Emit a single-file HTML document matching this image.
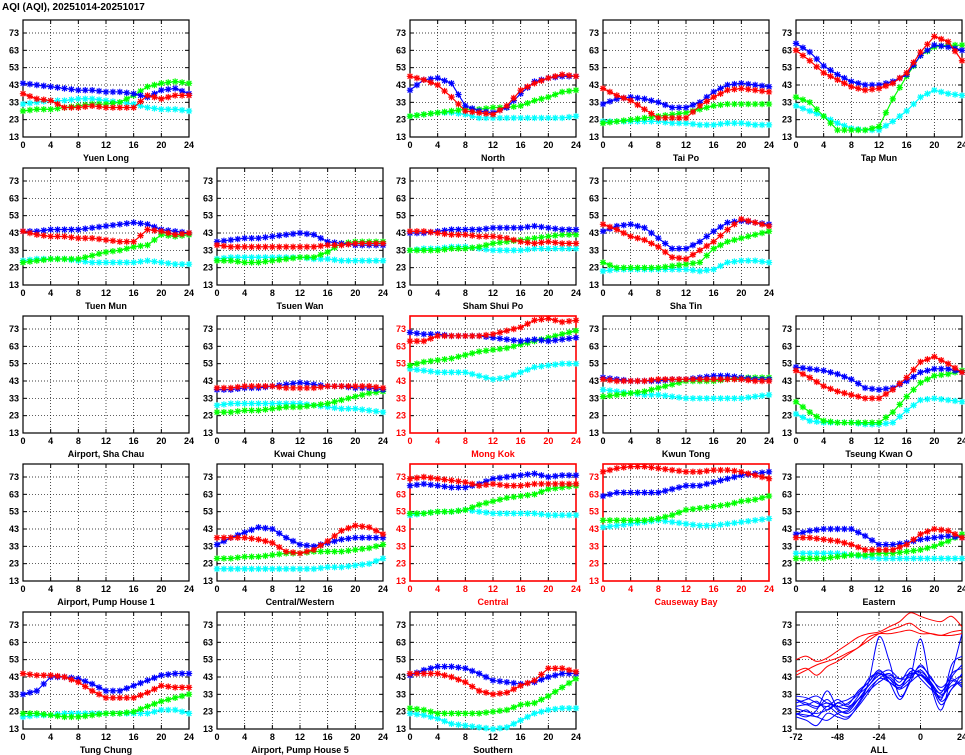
<!DOCTYPE html>
<html><head><meta charset="utf-8"><style>
html,body{margin:0;padding:0;background:#fff;}
svg{display:block;font-family:"Liberation Sans",sans-serif;}
</style></head><body>
<svg id="chart" width="965" height="755" viewBox="0 0 965 755" xmlns="http://www.w3.org/2000/svg">
<text x="2" y="10" font-size="10" font-weight="bold">AQI (AQI), 20251014-20251017</text>
</svg>
<script>
const hours=[0,2,4,6,8,10,12,14,16,18,20,22,24];
const xTickLabels=[0,4,8,12,16,20,24];
const yTickLabels=[13,23,33,43,53,63,73];
const allXTicks=[-72,-48,-24,0,24];
const allHours=[-72,-66,-60,-54,-48,-42,-36,-30,-24,-18,-12,-6,0,6,12,18,24];

const yuenLongRed=[38,35,34,30,30,31,30,30,30,37,35,37,37];
const yuenLongBlue=[44,43,42,41,40,40,39,39,38,36,40,41,38];
const yuenLongGreen=[28,29,29,30,31,32,32,33,37,42,44,45,44];
const yuenLongCyan=[32,33,34,34,35,35,34,33,32,30,29,29,28];
const northRed=[48,46,43,36,28,27,26,31,40,44,47,49,48];
const northBlue=[40,46,47,44,31,28,27,30,38,45,47,48,48];
const northGreen=[25,26,27,28,29,29,30,30,31,34,36,39,40];
const northCyan=[25,26,27,27,26,24,24,24,24,24,24,24,25];
const taiPoRed=[41,37,34,29,24,24,24,31,36,40,41,40,39];
const taiPoBlue=[32,35,36,35,33,30,30,33,39,43,44,43,42];
const taiPoGreen=[21,22,23,24,25,26,27,29,31,32,32,32,32];
const taiPoCyan=[22,22,22,22,22,21,21,20,20,21,21,20,20];
const tapMunRed=[63,57,50,46,42,40,41,44,50,62,71,68,57];
const tapMunBlue=[67,62,54,49,45,43,43,45,49,60,66,65,63];
const tapMunGreen=[36,33,25,17,17,17,19,35,48,60,65,66,66];
const tapMunCyan=[31,28,25,21,18,17,17,22,28,36,40,38,37];
const tuenMunRed=[44,42,41,41,40,40,39,38,38,45,44,42,43];
const tuenMunBlue=[44,44,45,45,45,46,47,48,49,48,45,44,43];
const tuenMunGreen=[26,27,28,28,28,30,32,33,35,36,42,41,42];
const tuenMunCyan=[27,28,28,28,27,26,26,26,26,27,26,25,25];
const tsuenWanRed=[36,35,35,35,35,35,35,35,36,36,37,37,37];
const tsuenWanBlue=[38,39,40,40,41,42,43,42,38,37,36,36,36];
const tsuenWanGreen=[27,27,26,26,27,28,29,29,32,37,38,38,38];
const tsuenWanCyan=[28,29,29,29,29,29,29,28,28,27,27,27,27];
const shamShuiPoRed=[44,44,43,42,42,41,41,40,38,37,38,37,37];
const shamShuiPoBlue=[43,43,44,45,45,45,46,46,46,47,46,45,45];
const shamShuiPoGreen=[33,33,33,34,34,35,37,38,39,40,41,42,42];
const shamShuiPoCyan=[33,34,34,35,35,34,33,33,33,34,34,34,34];
const shaTinRed=[48,45,41,39,35,29,28,33,38,45,51,49,47];
const shaTinBlue=[44,47,48,46,40,34,34,38,44,49,50,49,48];
const shaTinGreen=[26,23,23,23,23,24,25,26,34,38,40,42,44];
const shaTinCyan=[21,22,22,22,22,22,22,21,22,26,27,27,26];
const kwaiChungRed=[39,39,40,40,40,39,39,39,40,40,40,40,39];
const kwaiChungBlue=[38,38,39,39,40,41,42,41,40,40,39,39,38];
const kwaiChungGreen=[25,25,26,26,27,28,28,29,30,32,34,36,37];
const kwaiChungCyan=[29,30,30,30,30,30,30,29,28,27,27,26,25];
const mongKokRed=[66,66,69,69,69,69,70,72,74,78,79,77,78];
const mongKokBlue=[71,70,70,69,69,69,68,67,66,67,66,67,68];
const mongKokGreen=[52,54,55,56,58,60,61,62,64,66,68,70,72];
const mongKokCyan=[50,49,48,48,48,46,44,45,48,51,52,53,53];
const kwunTongRed=[44,43,43,43,44,44,44,44,44,44,44,43,43];
const kwunTongBlue=[45,44,43,43,43,44,44,45,46,46,45,44,44];
const kwunTongGreen=[34,35,36,37,39,41,43,43,43,44,45,45,45];
const kwunTongCyan=[38,37,36,35,35,34,33,33,33,33,33,34,35];
const tkoRed=[49,45,40,37,35,33,33,38,45,54,57,53,48];
const tkoBlue=[51,50,49,47,44,39,38,39,43,48,50,50,48];
const tkoGreen=[31,25,20,19,19,19,19,25,34,42,46,47,49];
const tkoCyan=[24,20,19,19,19,18,18,19,26,32,33,32,31];
const cwRed=[38,38,38,37,35,30,29,31,36,42,45,44,40];
const cwBlue=[34,38,41,44,43,38,34,33,35,37,38,38,38];
const cwGreen=[26,26,27,27,28,29,29,30,30,30,31,32,34];
const cwCyan=[20,20,20,20,20,20,20,20,21,21,22,23,26];
const centralRed=[72,73,72,71,70,68,69,68,68,69,69,69,69];
const centralBlue=[68,69,68,67,67,69,72,73,74,75,73,74,74];
const centralGreen=[52,52,53,53,54,57,59,61,62,63,66,67,68];
const centralCyan=[51,52,53,53,54,53,52,52,52,52,51,51,51];
const cbRed=[76,78,79,79,78,77,76,76,77,77,76,74,72];
const cbBlue=[62,64,64,64,64,66,68,68,70,72,74,75,76];
const cbGreen=[48,48,48,48,49,51,54,55,56,57,59,60,62];
const cbCyan=[44,45,46,47,48,47,46,45,45,46,47,48,49];
const easternRed=[38,38,37,36,34,31,31,31,34,40,43,42,38];
const easternBlue=[40,42,43,43,43,39,34,34,35,37,38,39,38];
const easternGreen=[26,26,26,27,28,28,29,29,30,31,33,36,40];
const easternCyan=[29,29,29,29,28,27,26,26,26,26,26,26,26];
const tungChungRed=[45,44,44,43,40,35,31,31,31,34,38,37,37];
const tungChungBlue=[33,35,43,43,42,39,35,35,38,41,44,45,45];
const tungChungGreen=[22,22,21,20,20,21,22,22,23,26,29,31,33];
const tungChungCyan=[20,21,21,22,22,22,22,22,22,22,24,24,22];
const southernRed=[45,45,45,43,40,35,33,34,38,41,48,48,46];
const southernBlue=[44,47,49,49,48,45,41,40,39,40,43,45,45];
const southernGreen=[25,24,22,22,22,22,23,24,27,28,32,37,42];
const southernCyan=[22,21,19,16,15,14,13,14,18,22,24,25,25];

const allRed1=[53,55,52,54,58,62,66,68,69,72,75,80,78,76,75,78,72];
const allRed2=[46,48,44,49,52,56,60,64,68,70,72,74,70,68,67,69,70];
const allRed3=[44,47,50,52,54,57,60,66,68,68,69,70,68,68,67,67,68];
const allBlue1=[22,20,24,35,25,22,28,40,66,52,32,42,65,38,24,45,68];
const allBlue2=[30,28,26,28,26,25,32,42,45,42,38,44,46,40,30,50,55];
const allBlue3=[25,23,22,24,28,26,30,38,44,44,42,45,44,38,34,45,48];
const allBlue4=[20,18,15,22,20,19,27,36,42,45,40,48,42,36,32,40,44];
const allBlue5=[28,30,32,28,26,28,33,38,45,40,37,42,47,40,33,38,40];
const allBlue6=[32,31,28,26,30,27,35,40,47,40,30,40,50,42,37,42,38];
const allBlue7=[22,21,20,18,22,24,30,35,40,43,38,45,44,40,29,36,42];
const allBlue8=[26,27,25,30,24,23,30,38,44,47,42,43,49,43,35,41,37];
const allBlue9=[21,24,20,26,22,20,26,34,42,40,36,40,44,38,27,36,45];
const allBlue10=[30,27,29,24,28,30,34,40,46,42,36,46,45,39,31,43,50];

const panels=[
 {name:"Yuen Long",r:0,c:0,s:[yuenLongCyan,yuenLongGreen,yuenLongBlue,yuenLongRed]},
 {name:"North",r:0,c:2,s:[northCyan,northGreen,northBlue,northRed]},
 {name:"Tai Po",r:0,c:3,s:[taiPoCyan,taiPoGreen,taiPoBlue,taiPoRed]},
 {name:"Tap Mun",r:0,c:4,s:[tapMunCyan,tapMunGreen,tapMunBlue,tapMunRed]},
 {name:"Tuen Mun",r:1,c:0,s:[tuenMunCyan,tuenMunGreen,tuenMunBlue,tuenMunRed]},
 {name:"Tsuen Wan",r:1,c:1,s:[tsuenWanCyan,tsuenWanGreen,tsuenWanBlue,tsuenWanRed]},
 {name:"Sham Shui Po",r:1,c:2,s:[shamShuiPoCyan,shamShuiPoGreen,shamShuiPoBlue,shamShuiPoRed]},
 {name:"Sha Tin",r:1,c:3,s:[shaTinCyan,shaTinGreen,shaTinBlue,shaTinRed]},
 {name:"Airport, Sha Chau",r:2,c:0,s:[]},
 {name:"Kwai Chung",r:2,c:1,s:[kwaiChungCyan,kwaiChungGreen,kwaiChungBlue,kwaiChungRed]},
 {name:"Mong Kok",r:2,c:2,hl:true,s:[mongKokCyan,mongKokGreen,mongKokBlue,mongKokRed]},
 {name:"Kwun Tong",r:2,c:3,s:[kwunTongCyan,kwunTongGreen,kwunTongBlue,kwunTongRed]},
 {name:"Tseung Kwan O",r:2,c:4,s:[tkoCyan,tkoGreen,tkoBlue,tkoRed]},
 {name:"Airport, Pump House 1",r:3,c:0,s:[]},
 {name:"Central/Western",r:3,c:1,s:[cwCyan,cwGreen,cwBlue,cwRed]},
 {name:"Central",r:3,c:2,hl:true,s:[centralCyan,centralGreen,centralBlue,centralRed]},
 {name:"Causeway Bay",r:3,c:3,hl:true,s:[cbCyan,cbGreen,cbBlue,cbRed]},
 {name:"Eastern",r:3,c:4,s:[easternCyan,easternGreen,easternBlue,easternRed]},
 {name:"Tung Chung",r:4,c:0,s:[tungChungCyan,tungChungGreen,tungChungBlue,tungChungRed]},
 {name:"Airport, Pump House 5",r:4,c:1,s:[]},
 {name:"Southern",r:4,c:2,s:[southernCyan,southernGreen,southernBlue,southernRed]}
];
const colors=["#00ffff","#00ff00","#0000ff","#ff0000"];
const seriesNames=["cyan","green","blue","red"];
const NS="http://www.w3.org/2000/svg";
const svg=document.getElementById("chart");
const colLeft=[23,217,410,603,796];
const W=166,H=117,YMIN=13,YMAX=80.5;
function mk(tag,attrs,parent){const e=document.createElementNS(NS,tag);for(const k in attrs)e.setAttribute(k,attrs[k]);(parent||svg).appendChild(e);return e;}
function frame(g,L,T,xs,xmin,xmax,hl,name){
  const col=hl?"#ff0000":"#000";
  const sx=v=>L+(v-xmin)/(xmax-xmin)*W;
  const sy=v=>T+H-(v-YMIN)/(YMAX-YMIN)*H;
  xs.forEach((v,i)=>{
    const x=sx(v);
    if(i>0&&i<xs.length-1){const l=mk("line",{x1:x,x2:x,y1:T,y2:T+H,stroke:"#000","stroke-width":0.7,"stroke-dasharray":"1,2"},g);
      
      }
    mk("line",{x1:x,x2:x,y1:T+H,y2:T+H-4,stroke:"#000"},g);
    mk("line",{x1:x,x2:x,y1:T,y2:T+4,stroke:"#000"},g);
    const t=mk("text",{x:x,y:T+H+11,"font-size":9,"font-weight":"bold","text-anchor":"middle",fill:col},g);
    t.textContent=v;
    
    
  });
  yTickLabels.forEach((v,i)=>{
    const y=sy(v);
    if(i>0){const l=mk("line",{x1:L,x2:L+W,y1:y,y2:y,stroke:"#000","stroke-width":0.7,"stroke-dasharray":"1,2"},g);
      
      }
    mk("line",{x1:L,x2:L+4,y1:y,y2:y,stroke:"#000"},g);
    mk("line",{x1:L+W,x2:L+W-4,y1:y,y2:y,stroke:"#000"},g);
    const t=mk("text",{x:L-4,y:y+3,"font-size":9,"font-weight":"bold","text-anchor":"end",fill:col},g);
    t.textContent=v;
    
    
  });
  const b=mk("rect",{x:L,y:T,width:W,height:H,fill:"none",stroke:col,"stroke-width":hl?1.6:1.2},g);
  
  
  const lab=mk("text",{x:L+W/2,y:T+H+24,"font-size":9,"font-weight":"bold","text-anchor":"middle",fill:col},g);
  lab.textContent=name;
  
  
  return {sx,sy};
}
function marker(g,x,y,c,nm){
  const m=mk("path",{d:`M${x-3.2},${y}h6.4M${x},${y-3.2}v6.4M${x-2.4},${y-2.4}l4.8,4.8M${x-2.4},${y+2.4}l4.8,-4.8`,stroke:c,"stroke-width":1.2},g);
  
  
}
panels.forEach(p=>{
  const L=colLeft[p.c],T=20+148*p.r;
  const g=mk("g",{});
  
  
  const {sx,sy}=frame(g,L,T,xTickLabels,0,24,p.hl,p.name);
  p.s.forEach((arr,si)=>{
    const pts=arr.map((v,i)=>[sx(hours[i]),sy(v)]);
    const pl=mk("polyline",{points:pts.map(q=>q.join(",")).join(" "),fill:"none",stroke:colors[si],"stroke-width":1.2},g);
    
    
    pts.forEach(([x,y],i)=>{
      marker(g,x,y,colors[si],'marker-'+seriesNames[si]);
      if(i<pts.length-1){
        const q=pts[i+1];
        marker(g,(x+q[0])/2,(y+q[1])/2,colors[si],'segment-marker-'+seriesNames[si]);
      }
    });
  });
});
// ALL panel
(function(){
  const L=colLeft[4],T=20+148*4;
  const g=mk("g",{});
  
  
  const {sx,sy}=frame(g,L,T,allXTicks,-72,24,false,"ALL");
  const cp=mk("clipPath",{id:"clipAll"},g);
  mk("rect",{x:L,y:T,width:W,height:H},cp);
  function smooth(arr){
    const p=arr.map((v,i)=>[sx(allHours[i]),sy(v)]);
    let d=`M${p[0][0]},${p[0][1]}`;
    for(let i=0;i<p.length-1;i++){
      const p0=p[Math.max(0,i-1)],p1=p[i],p2=p[i+1],p3=p[Math.min(p.length-1,i+2)];
      d+=`C${p1[0]+(p2[0]-p0[0])/6},${p1[1]+(p2[1]-p0[1])/6} ${p2[0]-(p3[0]-p1[0])/6},${p2[1]-(p3[1]-p1[1])/6} ${p2[0]},${p2[1]}`;
    }
    return d;
  }
  [allBlue1,allBlue2,allBlue3,allBlue4,allBlue5,allBlue6,allBlue7,allBlue8,allBlue9,allBlue10].forEach(a=>{
    const e=mk("path",{d:smooth(a),fill:"none",stroke:"#0000ff","stroke-width":1,"clip-path":"url(#clipAll)"},g);
    
    
  });
  [allRed1,allRed2,allRed3].forEach(a=>{
    const e=mk("path",{d:smooth(a),fill:"none",stroke:"#ff0000","stroke-width":1,"clip-path":"url(#clipAll)"},g);
    
    
  });
})();
</script>
</body></html>
